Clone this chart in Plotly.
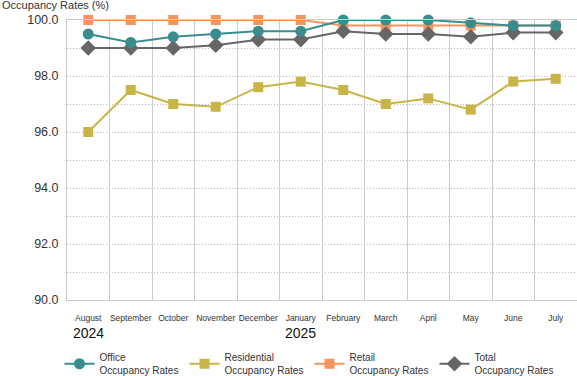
import plotly.graph_objects as go

months = ['August', 'September', 'October', 'November', 'December', 'January',
          'February', 'March', 'April', 'May', 'June', 'July']
office = [99.5, 99.2, 99.4, 99.5, 99.6, 99.6, 100.0, 100.0, 100.0, 99.9, 99.8, 99.8]
residential = [96.0, 97.5, 97.0, 96.9, 97.6, 97.8, 97.5, 97.0, 97.2, 96.8, 97.8, 97.9]
retail = [100.0, 100.0, 100.0, 100.0, 100.0, 100.0, 99.8, 99.8, 99.8, 99.8, 99.8, 99.8]
total = [99.0, 99.0, 99.0, 99.1, 99.3, 99.3, 99.6, 99.5, 99.5, 99.4, 99.55, 99.55]
years = [('August', '2024'), ('January', '2025')]
y_ticks = [90, 91, 92, 93, 94, 95, 96, 97, 98, 99, 100]

series = [
    ('Residential<br>Occupancy Rates', residential, '#c9b545', 'square', 10, 2),
    ('Retail<br>Occupancy Rates', retail, '#f4955f', 'square', 10, 3),
    ('Total<br>Occupancy Rates', total, '#666666', 'diamond', 12, 4),
    ('Office<br>Occupancy Rates', office, '#3a8d8f', 'circle', 11, 1),
]

fig = go.Figure()
for name, vals, color, sym, size, rank in series:
    fig.add_trace(go.Scatter(
        x=months, y=vals, name=name, mode='lines+markers',
        line=dict(color=color, width=2),
        marker=dict(color=color, symbol=sym, size=size),
        cliponaxis=False, legendrank=rank,
    ))

fig.update_layout(
    width=577, height=376,
    margin=dict(l=67, r=0, t=20, b=76, autoexpand=False),
    plot_bgcolor='white', paper_bgcolor='white',
    font=dict(family='Liberation Sans, Arial, sans-serif', color='#333333'),
    showlegend=True,
    legend=dict(orientation='h', x=-0.0147, xanchor='left', y=-0.158, yanchor='top',
                font=dict(size=10, color='#333333'), entrywidth=80,
                tracegroupgap=0, itemclick=False),
    xaxis=dict(type='category', tickson='boundaries', range=[-0.5, 11.5],
               showgrid=True, gridcolor='#cccccc', gridwidth=1,
               showline=True, linecolor='#cccccc', linewidth=1, mirror=True,
               ticks='', tickangle=0, automargin=False,
               tickfont=dict(family='Liberation Sans, Arial, sans-serif',
                             size=8.5, color='#333333'),
               ticklabelstandoff=10),
    yaxis=dict(range=[90, 100], tickvals=y_ticks, automargin=False,
               ticktext=[f'{v:.1f}' if v % 2 == 0 else '' for v in y_ticks],
               showgrid=True, gridcolor='#bbbbbb', griddash='1px,2px', gridwidth=1,
               showline=True, linecolor='#cccccc', linewidth=1, mirror=True,
               zeroline=False, ticks='', tickfont=dict(size=12.5, color='#333333'),
               ticklabelstandoff=5),
)

for m, yr in years:
    fig.add_annotation(x=m, xref='x', y=-0.118, yref='paper', text=yr,
                       showarrow=False, font=dict(size=14, color='#111111'),
                       xanchor='center', yanchor='middle')

fig.add_annotation(x=-67/510, xref='paper', y=1.055, yref='paper',
                   text='Occupancy Rates (%)', showarrow=False,
                   font=dict(size=11, color='#333333'), xanchor='left', yanchor='middle')

fig.write_html('out.html', config={'displayModeBar': False},
               post_script="document.body.style.margin='0';")
